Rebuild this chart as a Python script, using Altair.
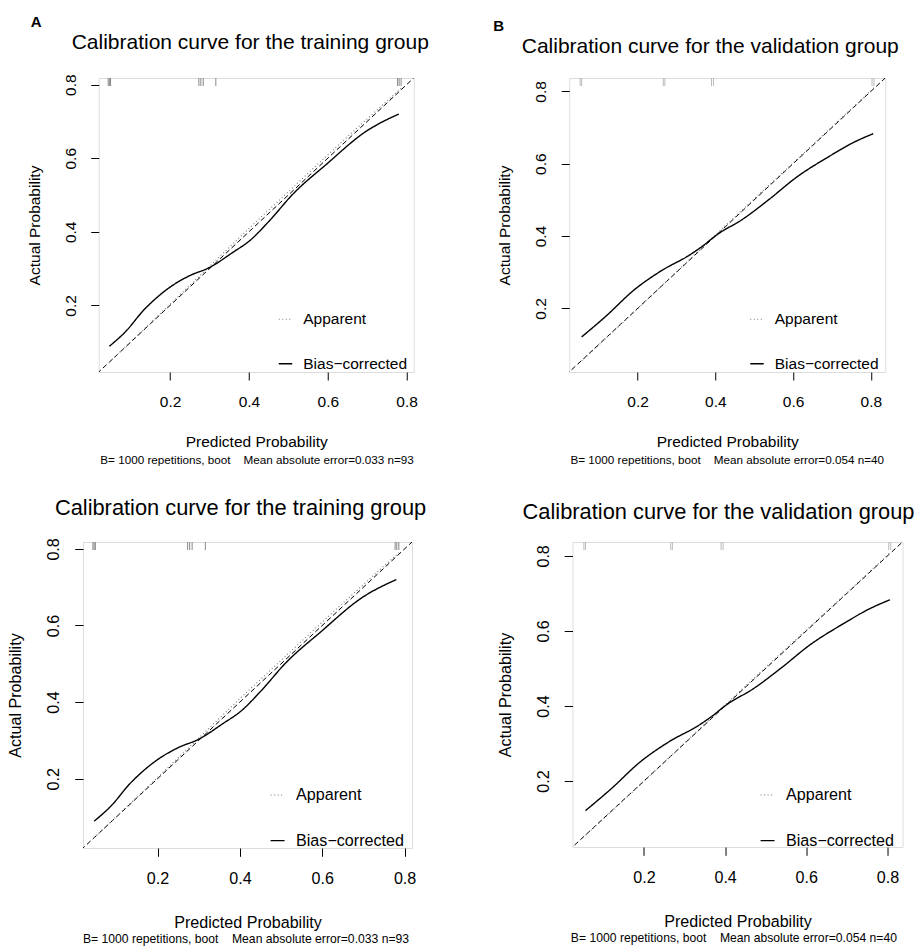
import altair as alt
import pandas as pd

FONT = "Liberation Sans"
TICKS = [0.2, 0.4, 0.6, 0.8]
IDEAL = [0.0, 1.0]
SERIES = ["Apparent", "Bias\u2212corrected"]
NB = "\u00a0"

# ---------------- training group ----------------
train_domain = [0.019, 0.818]
train_bias_x = [0.046, 0.089, 0.132, 0.165, 0.199, 0.250, 0.300, 0.359, 0.402, 0.452, 0.511, 0.596, 0.697, 0.780]
train_bias_y = [0.089, 0.131, 0.186, 0.220, 0.249, 0.281, 0.303, 0.344, 0.376, 0.430, 0.502, 0.583, 0.673, 0.720]
train_app_x = [0.046, 0.200, 0.300, 0.400, 0.500, 0.600, 0.700, 0.786]
train_app_y = [0.046, 0.203, 0.306, 0.409, 0.509, 0.609, 0.707, 0.790]
train_rug = [0.043, 0.046, 0.049, 0.273, 0.278, 0.284, 0.316, 0.777, 0.781, 0.786]
train_title = "Calibration curve for the training group"
train_sub = "B= 1000 repetitions, boot" + NB * 4 + "Mean absolute error=0.033 n=93"

# ---------------- validation group ----------------
valid_domain = [0.024, 0.837]
valid_bias_x = [0.056, 0.118, 0.191, 0.264, 0.333, 0.368, 0.402, 0.471, 0.539, 0.608, 0.694, 0.754, 0.806]
valid_bias_y = [0.121, 0.178, 0.251, 0.306, 0.347, 0.373, 0.402, 0.447, 0.502, 0.562, 0.621, 0.658, 0.683]
valid_app_x = [0.056, 0.200, 0.350, 0.500, 0.650, 0.808]
valid_app_y = [0.055, 0.199, 0.352, 0.503, 0.652, 0.810]
valid_rug = [0.052, 0.056, 0.266, 0.270, 0.390, 0.395, 0.803, 0.808]
valid_title = "Calibration curve for the validation group"
valid_sub = "B= 1000 repetitions, boot" + NB * 4 + "Mean absolute error=0.054 n=40"

IND = dict(color="independent", strokeDash="independent", strokeWidth="independent")


def panel(bx, by, ax, ay, rug, dom, w, h, title, title_dx, title_off, rug_color, k, xtp, leg_x, leg_y):
    fs = 15.5 * k
    xs = alt.Scale(domain=dom, nice=False, zero=False)
    ys = alt.Scale(domain=dom, nice=False, zero=False)
    xax = alt.Axis(values=TICKS, format=".1f", title="Predicted Probability",
                   tickSize=8 * k, labelPadding=14 * k, titlePadding=xtp,
                   labelFontSize=fs, titleFontSize=fs, labelFont=FONT, titleFont=FONT,
                   titleFontWeight="normal", domain=False, grid=False,
                   tickColor="black", labelColor="black", titleColor="black")
    yax = alt.Axis(values=TICKS, format=".1f", title="Actual Probability",
                   tickSize=8 * k, labelPadding=12.5 * k, titlePadding=21 * k, labelAngle=270,
                   labelAlign="center", labelBaseline="bottom",
                   labelFontSize=fs, titleFontSize=fs, labelFont=FONT, titleFont=FONT,
                   titleFontWeight="normal", domain=False, grid=False,
                   tickColor="black", labelColor="black", titleColor="black")

    ideal_df = pd.DataFrame({"x": IDEAL, "y": IDEAL})
    ideal = alt.Chart(ideal_df).mark_line(
        clip=True, color="black", strokeWidth=1, strokeDash=[5, 3]
    ).encode(x=alt.X("x:Q", scale=xs, axis=xax), y=alt.Y("y:Q", scale=ys, axis=yax))

    curves = pd.DataFrame({
        "x": list(ax) + list(bx),
        "y": list(ay) + list(by),
        "series": [SERIES[0]] * len(ax) + [SERIES[1]] * len(bx),
    })
    leg = alt.Legend(title=None, orient="none", legendX=leg_x, legendY=leg_y, padding=0,
                     symbolType="stroke", symbolSize=180 * k * k, symbolStrokeWidth=1.2,
                     labelFontSize=fs, labelFont=FONT, labelColor="black",
                     rowPadding=27.5 * k, labelOffset=10 * k)
    lines = alt.Chart(curves).mark_line(interpolate="monotone", clip=True).encode(
        x=alt.X("x:Q", scale=xs),
        y=alt.Y("y:Q", scale=ys),
        color=alt.Color("series:N", scale=alt.Scale(domain=SERIES, range=["#777777", "black"]), legend=leg),
        strokeDash=alt.StrokeDash("series:N", scale=alt.Scale(domain=SERIES, range=[[1, 2.5], [1, 0]]), legend=leg),
        strokeWidth=alt.StrokeWidth("series:N", scale=alt.Scale(domain=SERIES, range=[1.1, 1.4]), legend=None),
    )

    rug_df = pd.DataFrame({"x": rug})
    rugs = alt.Chart(rug_df).mark_rule(color=rug_color, strokeWidth=1).encode(
        x=alt.X("x:Q", scale=xs), y=alt.value(0), y2=alt.value(8)
    )

    return alt.layer(ideal, lines, rugs).properties(
        width=w, height=h,
        title=alt.TitleParams(title, fontSize=21 * k, font=FONT, fontWeight="normal",
                              anchor="middle", frame="group", offset=title_off, dx=title_dx, color="black"),
    )


def with_sub(ch, sub, dx, k, off):
    return alt.vconcat(ch, title=alt.TitleParams(sub, orient="bottom", anchor="middle", frame="bounds",
                                                 fontSize=11.7 * k, font=FONT, fontWeight="normal",
                                                 offset=off, dx=dx, color="black")).resolve_scale(**IND)


def with_letter(ch, letter, dx):
    return alt.vconcat(ch, title=alt.TitleParams(letter, anchor="start", frame="bounds", fontSize=15, font=FONT,
                                                 fontWeight="bold", offset=3, dx=dx, dy=2, color="black")).resolve_scale(**IND)


K2 = 1.04
A = with_letter(with_sub(panel(train_bias_x, train_bias_y, train_app_x, train_app_y, train_rug,
                               train_domain, 315, 294, train_title, -6, 21, "#888888", 1.0, 25, 179, 233.5),
                         train_sub, 29, 1.0, 4), "A", 4)
B = with_letter(with_sub(panel(valid_bias_x, valid_bias_y, valid_app_x, valid_app_y, valid_rug,
                               valid_domain, 316, 294, valid_title, -17, 21, "#bbbbbb", 1.0, 25, 180, 233.5),
                         valid_sub, 29, 1.0, 4), "B", -4)
C = with_sub(panel(train_bias_x, train_bias_y, train_app_x, train_app_y, train_rug,
                   train_domain, 329, 306, train_title, -7, 18, "#888888", K2, 27.5, 186.5, 245),
             train_sub, 29, K2, 2)
D = with_sub(panel(valid_bias_x, valid_bias_y, valid_app_x, valid_app_y, valid_rug,
                   valid_domain, 330, 305, valid_title, -19, 18, "#bbbbbb", K2, 27.5, 187, 245),
             valid_sub, 28, K2, 2)

row1 = alt.hconcat(A, B, spacing=63.5).resolve_scale(**IND)
row2 = alt.hconcat(C, D, spacing=69.5).resolve_scale(**IND)

chart = alt.vconcat(row1, row2, spacing=30, center=True).resolve_scale(**IND).properties(
    padding={"left": 7, "top": 15, "right": 0, "bottom": 0}
).configure_view(stroke="black", strokeWidth=1).configure(background="white")

chart.save("out.html", embed_options={"renderer": "svg", "actions": False})
